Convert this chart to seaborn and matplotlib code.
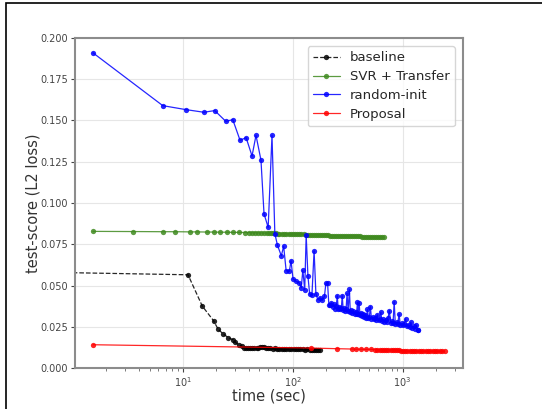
import numpy as np
import pandas as pd
import matplotlib
matplotlib.use('Agg')
import matplotlib.pyplot as plt
import seaborn as sns
from matplotlib.patches import Rectangle

# baseline (dashed black)
base_t = [0.5, 11.2, 15.1, 19.1, 21.0, 23.4, 26.1, 29.0, 30.2, 32.9, 34.5, 36, 37.5, 39, 41, 43, 45, 47,
          49, 51, 53, 55, 57, 60, 63, 66, 69, 72, 76, 80, 84, 88, 92, 97, 102, 107, 112, 118, 124, 130,
          136, 143, 150, 157, 164, 171, 177]
base_v = [0.0581, 0.0565, 0.0375, 0.0287, 0.0236, 0.0206, 0.0184, 0.0170, 0.0155, 0.0139, 0.0132, 0.0124,
          0.0121, 0.0120, 0.0121, 0.0119, 0.0120, 0.0119, 0.0121, 0.0128, 0.0130, 0.0126, 0.0122, 0.0119,
          0.0121, 0.0118, 0.0119, 0.0117, 0.0118, 0.0116, 0.0117, 0.0115, 0.0116, 0.0114, 0.0115, 0.0113,
          0.0115, 0.0113, 0.0114, 0.0112, 0.0114, 0.0111, 0.0112, 0.0110, 0.0111, 0.0109, 0.0110]

# SVR + Transfer (green)
svr_t = [1.53, 3.55, 6.6, 8.6, 11.6, 13.5, 16.5, 19.1, 21.9, 25.2, 29, 32.9, 37, 40, 43, 46, 49, 52, 55,
         58, 61, 64, 67, 70, 73, 76, 80, 84, 88, 92, 96, 100, 105, 110, 115, 120, 126, 132, 138, 144, 150,
         157, 164, 171, 178, 186, 194, 202, 211, 220, 230, 240, 250, 261, 272, 284, 296, 309, 322, 336,
         350, 365, 380, 396, 413, 430, 448, 467, 487, 508, 530, 552, 575, 600, 625, 650, 676]
svr_v = [0.0828, 0.0827, 0.0826, 0.0826, 0.0825, 0.0825, 0.0824, 0.0824, 0.0823, 0.0823, 0.0822, 0.0822,
         0.0821, 0.0821, 0.0820, 0.0820, 0.0819, 0.0819, 0.0818, 0.0818, 0.0817, 0.0817, 0.0816, 0.0816,
         0.0815, 0.0815, 0.0814, 0.0814, 0.0813, 0.0813, 0.0812, 0.0812, 0.0811, 0.0811, 0.0810, 0.0810,
         0.0810, 0.0809, 0.0809, 0.0808, 0.0808, 0.0807, 0.0807, 0.0806, 0.0806, 0.0805, 0.0805, 0.0804,
         0.0804, 0.0803, 0.0803, 0.0802, 0.0802, 0.0801, 0.0801, 0.0800, 0.0800, 0.0800, 0.0799, 0.0799,
         0.0798, 0.0798, 0.0797, 0.0797, 0.0797, 0.0796, 0.0796, 0.0796, 0.0795, 0.0795, 0.0795, 0.0794,
         0.0794, 0.0794, 0.0794, 0.0793, 0.0793]

# random-init (blue)
rand_t = [1.53, 6.6, 10.7, 15.6, 19.6, 24.7, 28.6, 33.3, 37.8, 42.8, 46.5, 51.6, 55, 60, 65, 69, 72.8,
          79, 83, 87.4, 93.5, 96.8, 101, 107, 115, 120, 124, 129, 133, 138, 143, 150, 157, 163, 170, 178,
          187, 195, 201, 208, 214, 220, 226, 232, 238, 245, 250, 255, 260, 266, 272, 278, 283, 289, 295,
          301, 307, 313, 320, 329, 335, 342, 350, 358, 366, 374, 382, 389, 396, 403, 411, 420, 430, 440,
          450, 460, 470, 480, 490, 500, 510, 522, 535, 548, 560, 575, 590, 605, 620, 635, 650, 668, 685,
          702, 720, 740, 759, 780, 800, 820, 840, 860, 885, 905, 930, 955, 980, 1005, 1035, 1065, 1095,
          1125, 1160, 1190, 1225, 1260, 1300, 1340, 1370, 1390]
rand_v = [0.191, 0.159, 0.1566, 0.155, 0.156, 0.1495, 0.1505, 0.138, 0.1396, 0.1285, 0.141, 0.126, 0.0935,
          0.0852, 0.141, 0.0815, 0.0745, 0.0680, 0.0738, 0.0590, 0.0586, 0.0650, 0.0540, 0.0526, 0.0516,
          0.0486, 0.0594, 0.0474, 0.0806, 0.0556, 0.0450, 0.0440, 0.0710, 0.0450, 0.0414, 0.0426, 0.0410,
          0.0434, 0.0514, 0.0518, 0.0380, 0.0380, 0.0395, 0.0370, 0.0385, 0.0360, 0.0375, 0.0438, 0.0360,
          0.0370, 0.0355, 0.0365, 0.0438, 0.0350, 0.0362, 0.0348, 0.0360, 0.0452, 0.0345, 0.0476, 0.0340,
          0.0352, 0.0335, 0.0345, 0.0330, 0.0340, 0.0328, 0.0398, 0.0325, 0.0392, 0.0320, 0.0335, 0.0315,
          0.0328, 0.0310, 0.0322, 0.0305, 0.0355, 0.0302, 0.0312, 0.0372, 0.0298, 0.0310, 0.0295, 0.0305,
          0.0290, 0.0322, 0.0288, 0.0298, 0.0338, 0.0285, 0.0295, 0.0280, 0.0290, 0.0277, 0.0305, 0.0348,
          0.0274, 0.0285, 0.0270, 0.0402, 0.0268, 0.0278, 0.0265, 0.0328, 0.0262, 0.0270, 0.0258, 0.0268,
          0.0298, 0.0252, 0.0260, 0.0248, 0.0278, 0.0245, 0.0252, 0.0238, 0.0258, 0.0232, 0.0228]

# Proposal (red)
prop_t = [1.53, 146, 254, 345, 375, 419, 463, 517, 562, 590, 620, 650, 680, 710, 745, 780, 815, 850, 890,
          930, 970, 1010, 1060, 1110, 1160, 1220, 1280, 1340, 1400, 1470, 1540, 1620, 1700, 1790, 1880,
          1980, 2080, 2190, 2300, 2420]
prop_v = [0.0141, 0.0121, 0.0117, 0.0115, 0.0114, 0.0114, 0.0113, 0.0113, 0.0112, 0.0112, 0.0112, 0.0111,
          0.0111, 0.0111, 0.0111, 0.0110, 0.0110, 0.0110, 0.0109, 0.0108, 0.0106, 0.0104, 0.0104, 0.0103,
          0.0103, 0.0103, 0.0103, 0.0103, 0.0102, 0.0102, 0.0102, 0.0102, 0.0102, 0.0102, 0.0102, 0.0102,
          0.0102, 0.0102, 0.0102, 0.0102]

sns.set_style('whitegrid', {'axes.edgecolor': '#8c8c8c', 'grid.color': '#e6e6e6',
                            'xtick.bottom': True, 'ytick.left': True})
plt.rcParams['font.family'] = ['DejaVu Sans']

fig = plt.figure(figsize=(5.42, 4.09), dpi=100)
# axes box: x 75..463 px, y 38..368 px
ax = fig.add_axes([75 / 542, 1 - 368 / 409, 388 / 542, 330 / 409])

series = [
    ('baseline', base_t, base_v, 'black', '--'),
    ('SVR + Transfer', svr_t, svr_v, '#3f8a1f', '-'),
    ('random-init', rand_t, rand_v, '#0000ff', '-'),
    ('Proposal', prop_t, prop_v, '#ff0000', '-'),
]
for name, t, v, c, ls in series:
    df = pd.DataFrame({'time': t, 'score': v})
    sns.lineplot(data=df, x='time', y='score', ax=ax, sort=False, estimator=None,
                 color=c, linestyle=ls, linewidth=0.9, marker='o', markersize=3.8,
                 markeredgewidth=0, label=name, alpha=0.85)

ax.set_xscale('log')
ax.set_xlim(1.05, 3550)
ax.set_ylim(0, 0.2)
ax.set_yticks(np.arange(0, 0.201, 0.025))
ax.yaxis.set_major_formatter(matplotlib.ticker.FormatStrFormatter('%.3f'))
ax.tick_params(axis='both', labelsize=7, colors='#444444', length=3, width=0.8, pad=2)
ax.tick_params(axis='x', which='minor', length=2, width=0.6, colors='#666666')
for s in ax.spines.values():
    s.set_linewidth(1.5)
ax.set_xlabel('time (sec)', fontsize=10.5, color='#333333', labelpad=0)
ax.set_ylabel('test-score (L2 loss)', fontsize=10.5, color='#333333', labelpad=0)
leg = ax.legend(loc='upper right', fontsize=9.5, frameon=True, handlelength=2.0,
                labelspacing=0.45, borderaxespad=0.6)
leg.get_frame().set_edgecolor('#cccccc')

fig.patches.append(Rectangle((6 / 542, -0.1), 1.2, 1.1 - 3 / 409, transform=fig.transFigure,
                             fill=False, edgecolor='black', linewidth=1.2))

fig.savefig('out.png', dpi=100)
